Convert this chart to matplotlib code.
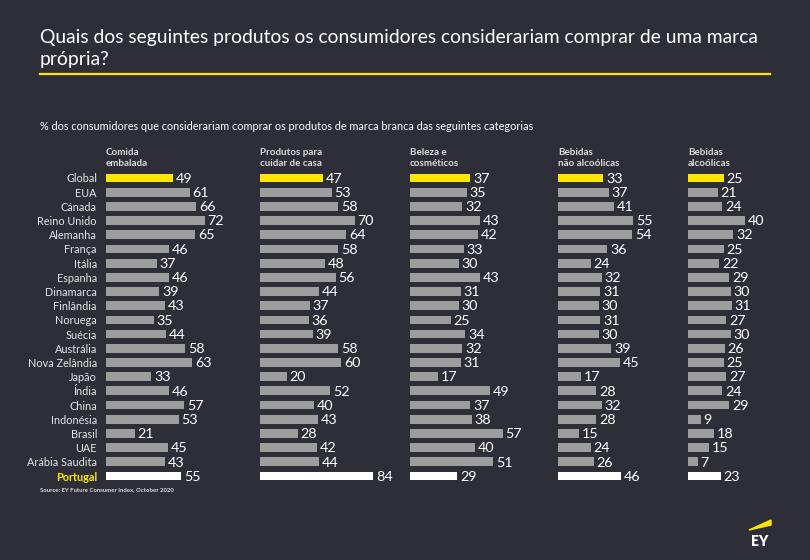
import matplotlib.pyplot as plt
from matplotlib.patches import Polygon

plt.rcParams['font.family'] = ['Lato', 'DejaVu Sans']

countries = ['Global', 'EUA', 'Cánada', 'Reino Unido', 'Alemanha', 'França', 'Itália',
             'Espanha', 'Dinamarca', 'Finlândia', 'Noruega', 'Suécia', 'Austrália',
             'Nova Zelândia', 'Japão', 'Índia', 'China', 'Indonésia', 'Brasil', 'UAE',
             'Arábia Saudita', 'Portugal']
headers = ['Comida\nembalada', 'Produtos para\ncuidar de casa', 'Beleza e\ncosméticos',
           'Bebidas\nnão alcoólicas', 'Bebidas\nalcoólicas']
comida = [49, 61, 66, 72, 65, 46, 37, 46, 39, 43, 35, 44, 58, 63, 33, 46, 57, 53, 21, 45, 43, 55]
casa = [47, 53, 58, 70, 64, 58, 48, 56, 44, 37, 36, 39, 58, 60, 20, 52, 40, 43, 28, 42, 44, 84]
beleza = [37, 35, 32, 43, 42, 33, 30, 43, 31, 30, 25, 34, 32, 31, 17, 49, 37, 38, 57, 40, 51, 29]
nao_alc = [33, 37, 41, 55, 54, 36, 24, 32, 31, 30, 31, 30, 39, 45, 17, 28, 32, 28, 15, 24, 26, 46]
alc = [25, 21, 24, 40, 32, 25, 22, 29, 30, 31, 27, 30, 26, 25, 27, 24, 29, 9, 18, 15, 7, 23]
series = [comida, casa, beleza, nao_alc, alc]

BG = '#2e2e38'
YEL = '#ffe600'
GRAY = '#9d9d9d'
W, H = 810, 560

fig = plt.figure(figsize=(8.1, 5.6), dpi=100, facecolor=BG)

# title block
fig.text(40 / W, 1 - 37 / H, 'Quais dos seguintes produtos os consumidores considerariam comprar de uma marca',
         color='white', fontsize=13.9, va='center', ha='left')
fig.text(40 / W, 1 - 60 / H, 'própria?', color='white', fontsize=13.9, va='center', ha='left')
fig.add_artist(plt.Line2D([40 / W, 770 / W], [1 - 74 / H] * 2, color=YEL, lw=1.6))
fig.text(40 / W, 1 - 127 / H,
         '% dos consumidores que considerariam comprar os produtos de marca branca das seguintes categorias',
         color='white', fontsize=7.8, va='center', ha='left')

# columns: left px, width px, px per unit
cols = [(106, 144, 1.37), (260, 145, 1.35), (410, 145, 1.63), (558, 127, 1.37), (688, 112, 1.42)]
top, bottom = 170.9, 483.1
n = len(countries)
ypos = list(range(n))
colors = [YEL] + [GRAY] * (n - 2) + ['white']

for i, (vals, (left, width, scale)) in enumerate(zip(series, cols)):
    ax = fig.add_axes([left / W, 1 - bottom / H, width / W, (bottom - top) / H])
    ax.set_facecolor('none')
    ax.barh(ypos, vals, height=0.62, color=colors, edgecolor='none')
    ax.set_xlim(0, width / scale)
    ax.set_ylim(n - 0.5, -0.5)
    for y, v in zip(ypos, vals):
        ax.annotate(str(v), (v, y), xytext=(2, -0.5), textcoords='offset points',
                    va='center', ha='left', color='white', fontsize=10.3)
    for s in ax.spines.values():
        s.set_visible(False)
    ax.set_xticks([])
    if i == 0:
        ax.set_yticks(ypos)
        ax.set_yticklabels(countries, fontsize=7.8, color='#e6e6e6')
        ax.tick_params(axis='y', length=0, pad=6.5)
        lab = ax.get_yticklabels()[-1]
        lab.set_color(YEL)
        lab.set_fontweight('bold')
    else:
        ax.set_yticks([])
    fig.text(left / W, 1 - 158 / H, headers[i], color='#dcdcdc', fontsize=7.1,
             fontweight='bold', va='center', ha='left', linespacing=1.35)

fig.text(40 / W, 1 - 490 / H, 'Source: EY Future Consumer Index, October 2020',
         color='#dddddd', fontsize=4.3, fontweight='bold', va='center', ha='left')

# EY logo
fig.add_artist(Polygon([[749 / W, 1 - 530 / H], [771 / W, 1 - 520 / H], [771 / W, 1 - 525 / H]],
                       closed=True, color=YEL, transform=fig.transFigure))
fig.text(760 / W, 1 - 541 / H, 'EY', color='white', fontsize=10, fontweight='heavy',
         va='center', ha='center')

fig.savefig('out.png', dpi=100, facecolor=BG)
